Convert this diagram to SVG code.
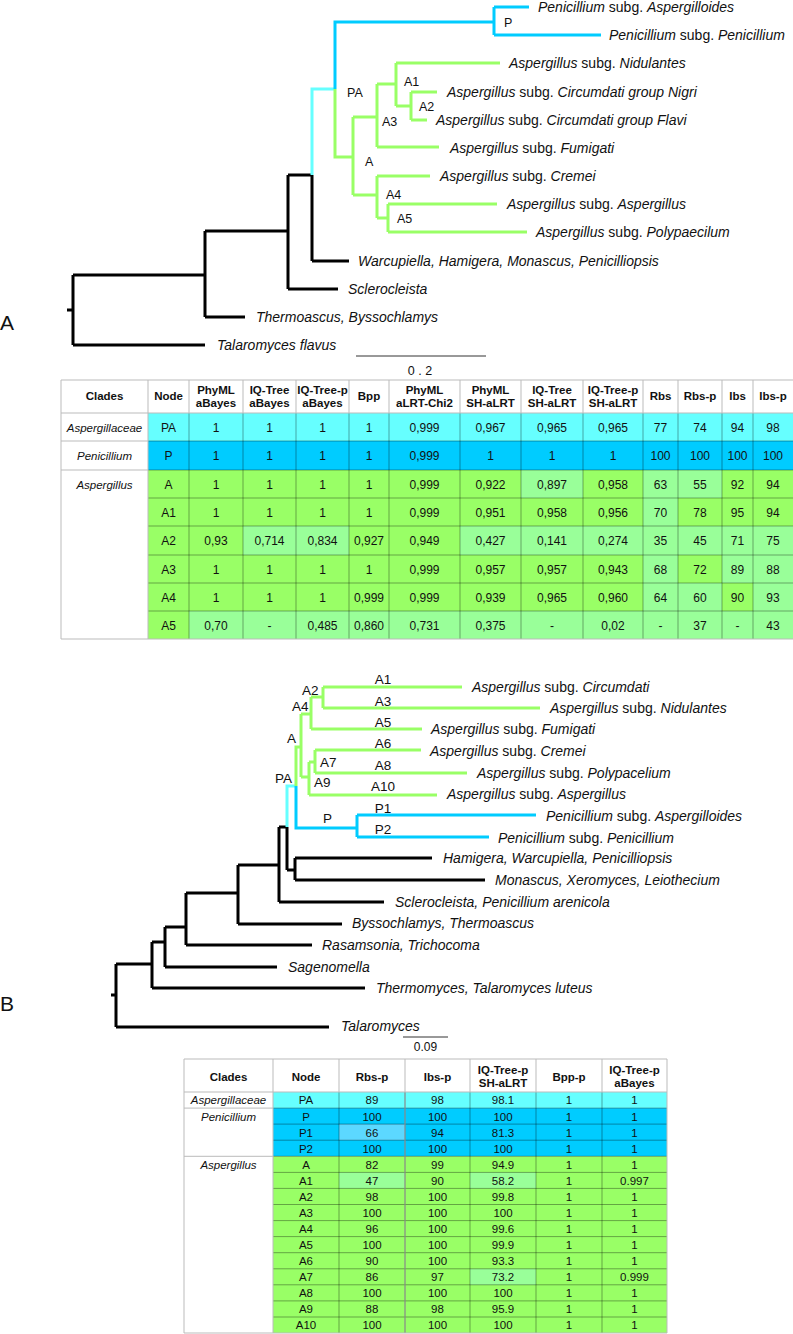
<svg xmlns="http://www.w3.org/2000/svg" width="793" height="1334" viewBox="0 0 793 1334">
<style>
text{font-family:"Liberation Sans",Arial,sans-serif;fill:#111}
.lf{font-size:14px}
.i{font-style:italic}
.nl{font-size:12.5px}
.nb{font-size:13.5px}
.big{font-size:21px}
.bk{stroke:#000;stroke-width:3;fill:none}
.gr{stroke:#99ff66;stroke-width:3;fill:none}
.bl{stroke:#00ccff;stroke-width:3;fill:none}
.cy{stroke:#66ffff;stroke-width:3;fill:none}
.th{font-size:11.5px;font-weight:bold;text-anchor:middle}
.td{font-size:12px;text-anchor:middle}
.tc{font-size:11.5px;font-style:italic;text-anchor:middle}
.tb{font-size:11.5px;text-anchor:middle}
.hl{stroke:#bbb;stroke-width:1;fill:none}
.gl{stroke:#000;stroke-opacity:0.35;stroke-width:1;fill:none}
</style>

<!-- ============ TREE A ============ -->
<g id="treeA-connectors">
<path class="bk" d="M67,310H73M73,275V345M73,345H205M73,275H205M205,231V317M205,317H245M205,231H288M288,175V289M288,289H338M288,175H312M312,175V261M312,261H349"/>
<path class="cy" d="M312,175V89H335"/>
<path class="bl" d="M335,89V22H494M494,7V35M494,7H529M494,35H601"/>
<path class="gr" d="M335,89V157H353M353,117V195M353,117H377M377,84V147M377,147H439M377,84H396M396,63V106M396,63H500M396,106H411M411,92V120M411,92H437M411,120H427M353,195H377M377,176V218M377,176H430M377,218H388M388,204V232M388,204H497M388,232H527"/>
<path d="M356,356H486" stroke="#333" stroke-width="1"/>
</g>
<g id="treeA-labels">
<text class="big" x="0" y="330">A</text>
<text class="nl" x="504" y="27">P</text>
<text class="nl" x="347" y="97">PA</text>
<text class="nl" x="404" y="86">A1</text>
<text class="nl" x="419" y="111">A2</text>
<text class="nl" x="382" y="126">A3</text>
<text class="nl" x="365" y="166">A</text>
<text class="nl" x="386" y="199">A4</text>
<text class="nl" x="397" y="223">A5</text>
<text class="nl" x="420" y="375" text-anchor="middle">0 . 2</text>
</g>
<g id="treeA-leaves">
<text class="lf" x="538" y="12"><tspan class="i">Penicillium</tspan> subg. <tspan class="i">Aspergilloides</tspan></text>
<text class="lf" x="609" y="40"><tspan class="i">Penicillium</tspan> subg. <tspan class="i">Penicillium</tspan></text>
<text class="lf" x="509" y="68"><tspan class="i">Aspergillus</tspan> subg. <tspan class="i">Nidulantes</tspan></text>
<text class="lf" x="447" y="97"><tspan class="i">Aspergillus</tspan> subg. <tspan class="i">Circumdati group Nigri</tspan></text>
<text class="lf" x="436" y="125"><tspan class="i">Aspergillus</tspan> subg. <tspan class="i">Circumdati group Flavi</tspan></text>
<text class="lf" x="450" y="153"><tspan class="i">Aspergillus</tspan> subg. <tspan class="i">Fumigati</tspan></text>
<text class="lf" x="440" y="181"><tspan class="i">Aspergillus</tspan> subg. <tspan class="i">Cremei</tspan></text>
<text class="lf" x="507" y="209"><tspan class="i">Aspergillus</tspan> subg. <tspan class="i">Aspergillus</tspan></text>
<text class="lf" x="536" y="237"><tspan class="i">Aspergillus</tspan> subg. <tspan class="i">Polypaecilum</tspan></text>
<text class="lf i" x="358" y="266">Warcupiella, Hamigera, Monascus, Penicilliopsis</text>
<text class="lf i" x="348" y="294">Sclerocleista</text>
<text class="lf i" x="256" y="322">Thermoascus, Byssochlamys</text>
<text class="lf i" x="217" y="350">Talaromyces flavus</text>
</g>

<!-- ============ TABLE A ============ -->
<g id="tableA">
<rect x="148" y="413" width="645" height="28" fill="#66ffff"/>
<rect x="148" y="441" width="645" height="29" fill="#00ccff"/>
<rect x="148" y="470" width="645" height="169" fill="#99ff66"/>
<g fill="#99ff99">
<rect x="521" y="470" width="62" height="28"/><rect x="643" y="470" width="35" height="28"/><rect x="678" y="470" width="44" height="28"/>
<rect x="643" y="498" width="35" height="28"/>
<rect x="243" y="526" width="106" height="29"/><rect x="460" y="526" width="333" height="29"/>
<rect x="643" y="555" width="35" height="28"/><rect x="722" y="555" width="71" height="28"/>
<rect x="643" y="583" width="79" height="28"/><rect x="753" y="583" width="40" height="28"/>
<rect x="189" y="611" width="604" height="28"/>
</g>
<path class="gl" d="M148,441H793M148,470H793M148,498H793M148,526H793M148,555H793M148,583H793M148,611H793M189,413V639M243,413V639M296,413V639M349,413V639M389,413V639M460,413V639M521,413V639M583,413V639M643,413V639M678,413V639M722,413V639M753,413V639"/>
<path class="hl" d="M61,380H793M61,413H793M61,441H148M61,470H148M61,639H793M61,380V639M148,380V639M189,380V413M243,380V413M296,380V413M349,380V413M389,380V413M460,380V413M521,380V413M583,380V413M643,380V413M678,380V413M722,380V413M753,380V413"/>
<text class="th" x="104.5" y="400">Clades</text>
<text class="th" x="168.5" y="400">Node</text>
<text class="th" x="216" y="394">PhyML</text><text class="th" x="216" y="407">aBayes</text>
<text class="th" x="269.5" y="394">IQ-Tree</text><text class="th" x="269.5" y="407">aBayes</text>
<text class="th" x="322.5" y="394">IQ-Tree-p</text><text class="th" x="322.5" y="407">aBayes</text>
<text class="th" x="369" y="400">Bpp</text>
<text class="th" x="424.5" y="394">PhyML</text><text class="th" x="424.5" y="407">aLRT-Chi2</text>
<text class="th" x="490.5" y="394">PhyML</text><text class="th" x="490.5" y="407">SH-aLRT</text>
<text class="th" x="552" y="394">IQ-Tree</text><text class="th" x="552" y="407">SH-aLRT</text>
<text class="th" x="613" y="394">IQ-Tree-p</text><text class="th" x="613" y="407">SH-aLRT</text>
<text class="th" x="660.5" y="400">Rbs</text>
<text class="th" x="700" y="400">Rbs-p</text>
<text class="th" x="737.5" y="400">Ibs</text>
<text class="th" x="773" y="400">Ibs-p</text>
<text class="tc" x="104.5" y="431.5">Aspergillaceae</text>
<text class="tc" x="104.5" y="460">Penicillium</text>
<text class="tc" x="104.5" y="488.5">Aspergillus</text>
<g class="td">
<text class="td" y="431.5"><tspan x="168.5">PA</tspan><tspan x="216">1</tspan><tspan x="269.5">1</tspan><tspan x="322.5">1</tspan><tspan x="369">1</tspan><tspan x="424.5">0,999</tspan><tspan x="490.5">0,967</tspan><tspan x="552">0,965</tspan><tspan x="613">0,965</tspan><tspan x="660.5">77</tspan><tspan x="700">74</tspan><tspan x="737.5">94</tspan><tspan x="773">98</tspan></text>
<text class="td" y="460"><tspan x="168.5">P</tspan><tspan x="216">1</tspan><tspan x="269.5">1</tspan><tspan x="322.5">1</tspan><tspan x="369">1</tspan><tspan x="424.5">0,999</tspan><tspan x="490.5">1</tspan><tspan x="552">1</tspan><tspan x="613">1</tspan><tspan x="660.5">100</tspan><tspan x="700">100</tspan><tspan x="737.5">100</tspan><tspan x="773">100</tspan></text>
<text class="td" y="488.5"><tspan x="168.5">A</tspan><tspan x="216">1</tspan><tspan x="269.5">1</tspan><tspan x="322.5">1</tspan><tspan x="369">1</tspan><tspan x="424.5">0,999</tspan><tspan x="490.5">0,922</tspan><tspan x="552">0,897</tspan><tspan x="613">0,958</tspan><tspan x="660.5">63</tspan><tspan x="700">55</tspan><tspan x="737.5">92</tspan><tspan x="773">94</tspan></text>
<text class="td" y="516.5"><tspan x="168.5">A1</tspan><tspan x="216">1</tspan><tspan x="269.5">1</tspan><tspan x="322.5">1</tspan><tspan x="369">1</tspan><tspan x="424.5">0,999</tspan><tspan x="490.5">0,951</tspan><tspan x="552">0,958</tspan><tspan x="613">0,956</tspan><tspan x="660.5">70</tspan><tspan x="700">78</tspan><tspan x="737.5">95</tspan><tspan x="773">94</tspan></text>
<text class="td" y="545"><tspan x="168.5">A2</tspan><tspan x="216">0,93</tspan><tspan x="269.5">0,714</tspan><tspan x="322.5">0,834</tspan><tspan x="369">0,927</tspan><tspan x="424.5">0,949</tspan><tspan x="490.5">0,427</tspan><tspan x="552">0,141</tspan><tspan x="613">0,274</tspan><tspan x="660.5">35</tspan><tspan x="700">45</tspan><tspan x="737.5">71</tspan><tspan x="773">75</tspan></text>
<text class="td" y="573.5"><tspan x="168.5">A3</tspan><tspan x="216">1</tspan><tspan x="269.5">1</tspan><tspan x="322.5">1</tspan><tspan x="369">1</tspan><tspan x="424.5">0,999</tspan><tspan x="490.5">0,957</tspan><tspan x="552">0,957</tspan><tspan x="613">0,943</tspan><tspan x="660.5">68</tspan><tspan x="700">72</tspan><tspan x="737.5">89</tspan><tspan x="773">88</tspan></text>
<text class="td" y="601.5"><tspan x="168.5">A4</tspan><tspan x="216">1</tspan><tspan x="269.5">1</tspan><tspan x="322.5">1</tspan><tspan x="369">0,999</tspan><tspan x="424.5">0,999</tspan><tspan x="490.5">0,939</tspan><tspan x="552">0,965</tspan><tspan x="613">0,960</tspan><tspan x="660.5">64</tspan><tspan x="700">60</tspan><tspan x="737.5">90</tspan><tspan x="773">93</tspan></text>
<text class="td" y="629.5"><tspan x="168.5">A5</tspan><tspan x="216">0,70</tspan><tspan x="269.5">-</tspan><tspan x="322.5">0,485</tspan><tspan x="369">0,860</tspan><tspan x="424.5">0,731</tspan><tspan x="490.5">0,375</tspan><tspan x="552">-</tspan><tspan x="613">0,02</tspan><tspan x="660.5">-</tspan><tspan x="700">37</tspan><tspan x="737.5">-</tspan><tspan x="773">43</tspan></text>
</g>
</g>

<!-- ============ TREE B ============ -->
<g id="treeB-connectors">
<path class="bk" d="M111,995H116M116,964V1027M116,1027H329M116,964H152M152,942V988M152,988H365M152,942H165M165,927V967M165,967H277M165,927H186M186,893V945M186,945H312M186,893H238M238,865V924M238,924H342M238,865H279M279,827V902M279,902H384M279,827H287M287,827V870M287,870H295M295,858V880M295,858H432M295,880H485"/>
<path class="cy" d="M287,827V786H296"/>
<path class="bl" d="M296,786V828H357M357,815V837M357,815H536M357,837H489"/>
<path class="gr" d="M296,786V747H301M301,714V777M301,714H311M311,697V729M311,697H323M323,687V708M323,687H462M323,708H540M311,729H422M301,777H309M309,762V795M309,762H315M315,750V773M315,750H421M315,773H467M309,795H437"/>
<path d="M403,1037H448" stroke="#333" stroke-width="1"/>
</g>
<g id="treeB-labels">
<text class="big" x="0" y="1011">B</text>
<g class="nb" text-anchor="middle">
<text class="nb" x="383" y="684" text-anchor="middle">A1</text>
<text class="nb" x="383" y="706" text-anchor="middle">A3</text>
<text class="nb" x="383" y="727" text-anchor="middle">A5</text>
<text class="nb" x="383" y="748" text-anchor="middle">A6</text>
<text class="nb" x="383" y="770" text-anchor="middle">A8</text>
<text class="nb" x="383" y="791" text-anchor="middle">A10</text>
<text class="nb" x="383" y="813" text-anchor="middle">P1</text>
<text class="nb" x="383" y="834" text-anchor="middle">P2</text>
</g>
<text class="nb" x="302" y="695">A2</text>
<text class="nb" x="292" y="711">A4</text>
<text class="nb" x="287" y="743">A</text>
<text class="nb" x="275" y="783">PA</text>
<text class="nb" x="320" y="767">A7</text>
<text class="nb" x="314" y="787">A9</text>
<text class="nb" x="323" y="823">P</text>
<text x="425.5" y="1051" font-size="12" text-anchor="middle">0.09</text>
</g>
<g id="treeB-leaves">
<text class="lf" x="472" y="692"><tspan class="i">Aspergillus</tspan> subg. <tspan class="i">Circumdati</tspan></text>
<text class="lf" x="550" y="713"><tspan class="i">Aspergillus</tspan> subg. <tspan class="i">Nidulantes</tspan></text>
<text class="lf" x="431" y="734"><tspan class="i">Aspergillus</tspan> subg. <tspan class="i">Fumigati</tspan></text>
<text class="lf" x="430" y="756"><tspan class="i">Aspergillus</tspan> subg. <tspan class="i">Cremei</tspan></text>
<text class="lf" x="477" y="778"><tspan class="i">Aspergillus</tspan> subg. <tspan class="i">Polypacelium</tspan></text>
<text class="lf" x="447" y="799"><tspan class="i">Aspergillus</tspan> subg. <tspan class="i">Aspergillus</tspan></text>
<text class="lf" x="546" y="821"><tspan class="i">Penicillium</tspan> subg. <tspan class="i">Aspergilloides</tspan></text>
<text class="lf" x="498" y="843"><tspan class="i">Penicillium</tspan> subg. <tspan class="i">Penicillium</tspan></text>
<text class="lf i" x="443" y="863">Hamigera, Warcupiella, Penicilliopsis</text>
<text class="lf i" x="495" y="885">Monascus, Xeromyces, Leiothecium</text>
<text class="lf i" x="395" y="907">Sclerocleista, Penicillium arenicola</text>
<text class="lf i" x="352" y="928">Byssochlamys, Thermoascus</text>
<text class="lf i" x="322" y="950">Rasamsonia, Trichocoma</text>
<text class="lf i" x="288" y="972">Sagenomella</text>
<text class="lf i" x="376" y="993">Thermomyces, Talaromyces luteus</text>
<text class="lf i" x="341" y="1031">Talaromyces</text>
</g>

<!-- ============ TABLE B ============ -->
<g id="tableB">
<rect x="273" y="1092" width="394" height="16.1" fill="#66ffff"/>
<rect x="273" y="1108.1" width="394" height="48.2" fill="#00ccff"/>
<rect x="339" y="1124.1" width="66" height="16.1" fill="#5cd8ff"/>
<rect x="273" y="1156.3" width="394" height="176.7" fill="#99ff66"/>
<g fill="#99ff99">
<rect x="339" y="1172.4" width="66" height="16"/>
<rect x="470" y="1172.4" width="66" height="16"/>
<rect x="470" y="1268.8" width="66" height="16"/>
</g>
<path class="gl" d="M273,1108.1H667M273,1124.1H667M273,1140.2H667M273,1156.3H667M273,1172.4H667M273,1188.4H667M273,1204.5H667M273,1220.6H667M273,1236.6H667M273,1252.7H667M273,1268.8H667M273,1284.8H667M273,1300.9H667M273,1317H667M339,1092V1333M470,1092V1333M536,1092V1333M602,1092V1333"/>
<path d="M405,1092V1333" stroke="#888" stroke-opacity="0.6" stroke-width="2" fill="none"/>
<path class="hl" d="M184,1059H667M184,1092H667M184,1108.1H273M184,1156.3H273M184,1333H667M184,1059V1333M273,1059V1333M667,1059V1333M339,1059V1092M405,1059V1092M470,1059V1092M536,1059V1092M602,1059V1092"/>
<text class="th" x="228.5" y="1081">Clades</text>
<text class="th" x="306" y="1081">Node</text>
<text class="th" x="372" y="1081">Rbs-p</text>
<text class="th" x="437.5" y="1081">Ibs-p</text>
<text class="th" x="503" y="1074">IQ-Tree-p</text><text class="th" x="503" y="1087">SH-aLRT</text>
<text class="th" x="569" y="1081">Bpp-p</text>
<text class="th" x="634.5" y="1074">IQ-Tree-p</text><text class="th" x="634.5" y="1087">aBayes</text>
<text class="tc" x="228.5" y="1104">Aspergillaceae</text>
<text class="tc" x="228.5" y="1120.5">Penicillium</text>
<text class="tc" x="228.5" y="1168.5">Aspergillus</text>
<text class="tb" y="1104"><tspan x="306">PA</tspan><tspan x="372">89</tspan><tspan x="437.5">98</tspan><tspan x="503">98.1</tspan><tspan x="569">1</tspan><tspan x="634.5">1</tspan></text>
<text class="tb" y="1120.5"><tspan x="306">P</tspan><tspan x="372">100</tspan><tspan x="437.5">100</tspan><tspan x="503">100</tspan><tspan x="569">1</tspan><tspan x="634.5">1</tspan></text>
<text class="tb" y="1136.5"><tspan x="306">P1</tspan><tspan x="372">66</tspan><tspan x="437.5">94</tspan><tspan x="503">81.3</tspan><tspan x="569">1</tspan><tspan x="634.5">1</tspan></text>
<text class="tb" y="1152.5"><tspan x="306">P2</tspan><tspan x="372">100</tspan><tspan x="437.5">100</tspan><tspan x="503">100</tspan><tspan x="569">1</tspan><tspan x="634.5">1</tspan></text>
<text class="tb" y="1168.5"><tspan x="306">A</tspan><tspan x="372">82</tspan><tspan x="437.5">99</tspan><tspan x="503">94.9</tspan><tspan x="569">1</tspan><tspan x="634.5">1</tspan></text>
<text class="tb" y="1184.5"><tspan x="306">A1</tspan><tspan x="372">47</tspan><tspan x="437.5">90</tspan><tspan x="503">58.2</tspan><tspan x="569">1</tspan><tspan x="634.5">0.997</tspan></text>
<text class="tb" y="1200.5"><tspan x="306">A2</tspan><tspan x="372">98</tspan><tspan x="437.5">100</tspan><tspan x="503">99.8</tspan><tspan x="569">1</tspan><tspan x="634.5">1</tspan></text>
<text class="tb" y="1216.5"><tspan x="306">A3</tspan><tspan x="372">100</tspan><tspan x="437.5">100</tspan><tspan x="503">100</tspan><tspan x="569">1</tspan><tspan x="634.5">1</tspan></text>
<text class="tb" y="1232.5"><tspan x="306">A4</tspan><tspan x="372">96</tspan><tspan x="437.5">100</tspan><tspan x="503">99.6</tspan><tspan x="569">1</tspan><tspan x="634.5">1</tspan></text>
<text class="tb" y="1248.5"><tspan x="306">A5</tspan><tspan x="372">100</tspan><tspan x="437.5">100</tspan><tspan x="503">99.9</tspan><tspan x="569">1</tspan><tspan x="634.5">1</tspan></text>
<text class="tb" y="1264.5"><tspan x="306">A6</tspan><tspan x="372">90</tspan><tspan x="437.5">100</tspan><tspan x="503">93.3</tspan><tspan x="569">1</tspan><tspan x="634.5">1</tspan></text>
<text class="tb" y="1281"><tspan x="306">A7</tspan><tspan x="372">86</tspan><tspan x="437.5">97</tspan><tspan x="503">73.2</tspan><tspan x="569">1</tspan><tspan x="634.5">0.999</tspan></text>
<text class="tb" y="1297"><tspan x="306">A8</tspan><tspan x="372">100</tspan><tspan x="437.5">100</tspan><tspan x="503">100</tspan><tspan x="569">1</tspan><tspan x="634.5">1</tspan></text>
<text class="tb" y="1313"><tspan x="306">A9</tspan><tspan x="372">88</tspan><tspan x="437.5">98</tspan><tspan x="503">95.9</tspan><tspan x="569">1</tspan><tspan x="634.5">1</tspan></text>
<text class="tb" y="1329"><tspan x="306">A10</tspan><tspan x="372">100</tspan><tspan x="437.5">100</tspan><tspan x="503">100</tspan><tspan x="569">1</tspan><tspan x="634.5">1</tspan></text>
</g>
</svg>
